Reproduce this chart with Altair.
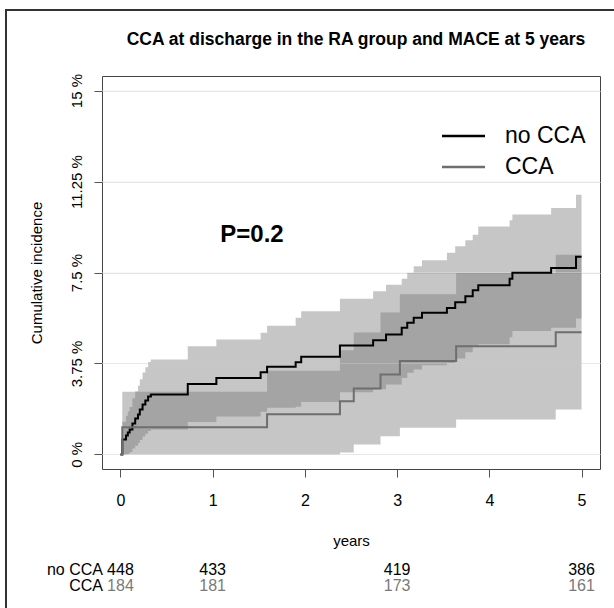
import altair as alt
import pandas as pd

# ---------------- data ----------------
groups = ["no CCA", "CCA"]
line_colors = ["#000000", "#6e6e6e"]

# no CCA (black): step times (years), cumulative incidence (%), 95% CI bounds
nocca_t = [0, 0.02, 0.06, 0.08, 0.10, 0.13, 0.16, 0.19, 0.21, 0.24, 0.27, 0.30, 0.33, 0.73, 1.04,
           1.52, 1.59, 1.90, 1.96, 2.38, 2.74, 2.88, 3.05, 3.11, 3.18, 3.27, 3.54, 3.63, 3.74, 3.82,
           3.88, 4.22, 4.25, 4.67, 4.94, 5.00]
nocca_est = [0, 0.62, 0.78, 0.90, 1.03, 1.28, 1.48, 1.65, 1.85, 2.06, 2.22, 2.39, 2.47, 2.90, 3.15,
             3.39, 3.61, 3.80, 4.03, 4.49, 4.71, 4.94, 5.22, 5.43, 5.63, 5.84, 6.04, 6.27, 6.52, 6.77,
             6.97, 7.24, 7.49, 7.69, 8.15, 8.15]
nocca_hi = [0, 1.35, 1.60, 1.77, 1.96, 2.32, 2.60, 2.83, 3.10, 3.38, 3.59, 3.81, 3.91, 4.46, 4.74,
            5.02, 5.30, 5.63, 5.90, 6.42, 6.73, 7.00, 7.24, 7.49, 7.76, 8.00, 8.31, 8.58, 8.83, 9.06,
            9.40, 9.65, 9.89, 10.16, 10.70, 10.70]
nocca_lo = [0, 0, 0, 0.03, 0.10, 0.24, 0.36, 0.47, 0.60, 0.74, 0.85, 0.97, 1.03, 1.34, 1.56,
            1.76, 1.92, 1.97, 2.16, 2.56, 2.69, 2.88, 3.15, 3.37, 3.50, 3.68, 3.77, 3.96, 4.21, 4.48,
            4.54, 4.83, 5.09, 5.22, 5.60, 5.60]

# CCA (grey)
cca_t = [0, 0.02, 1.59, 2.38, 2.53, 2.82, 3.03, 3.64, 4.72, 5.00]
cca_est = [0, 1.12, 1.66, 2.19, 2.72, 3.30, 3.85, 4.46, 5.04, 5.04]
cca_hi = [0, 2.58, 3.45, 4.30, 5.03, 5.85, 6.60, 7.48, 8.23, 8.23]
cca_lo = [0, 0, 0, 0.08, 0.41, 0.75, 1.10, 1.44, 1.85, 1.85]

x_ticks = [0, 1, 2, 3, 4, 5]
y_ticks = [0, 3.75, 7.5, 11.25, 15]

risk_times = [0, 1, 3, 5]
risk_nocca = [448, 433, 419, 386]
risk_cca = [184, 181, 173, 161]

title_text = "CCA at discharge in the RA group and MACE at 5 years"
p_text = "P=0.2"

# ---------------- tables ----------------
rows = []
for g, ts, es, los, his in [("no CCA", nocca_t, nocca_est, nocca_lo, nocca_hi),
                            ("CCA", cca_t, cca_est, cca_lo, cca_hi)]:
    for i, (t, e, lo, hi) in enumerate(zip(ts, es, los, his)):
        rows.append({"group": g, "t": t, "est": e, "lo": lo, "hi": hi, "i": i})
curves = pd.DataFrame(rows)
band_nocca = curves[curves["group"] == "no CCA"]
band_cca = curves[curves["group"] == "CCA"]

risk_rows = []
for t, a, b in zip(risk_times, risk_nocca, risk_cca):
    risk_rows.append({"t": t, "n": str(a), "group": "no CCA"})
    risk_rows.append({"t": t, "n": str(b), "group": "CCA"})
risk = pd.DataFrame(risk_rows)

W, H = 498, 393
FONT = "Liberation Sans"

xscale = alt.Scale(domain=[-0.2, 5.2], nice=False, zero=False)
yscale = alt.Scale(domain=[-0.6, 15.6], nice=False, zero=False)
cscale = alt.Scale(domain=groups, range=line_colors)

x_axis = alt.Axis(values=x_ticks, format="d", title="years", grid=False, domain=False,
                  tickSize=8, tickColor="#555555", labelFontSize=16, labelColor="#000000",
                  labelPadding=15, labelFont=FONT, titleFont=FONT, titleFontSize=15,
                  titleFontWeight="normal", titleColor="#000000", titleY=71, titleX=W / 2,
                  titleBaseline="middle")
y_axis = alt.Axis(values=y_ticks, title="Cumulative incidence", grid=True, gridColor="#e4e4e4",
                  domain=False, tickSize=8, tickColor="#555555", labelFontSize=15,
                  labelColor="#000000", labelAngle=270, labelAlign="center",
                  labelBaseline="alphabetic", labelPadding=13, labelFont=FONT,
                  labelExpr="datum.value + ' %'", titleFont=FONT, titleFontSize=15,
                  titleFontWeight="normal", titleColor="#000000", titleAngle=270,
                  titleX=-66, titleY=H / 2, titleAlign="center", titleBaseline="middle")

bands_nocca = alt.Chart(band_nocca).mark_area(
    interpolate="step-after", color="#707070", fillOpacity=0.4).encode(
    x=alt.X("t:Q", scale=xscale, axis=x_axis),
    y=alt.Y("lo:Q", scale=yscale, axis=y_axis),
    y2="hi:Q")

bands_cca = alt.Chart(band_cca).mark_area(
    interpolate="step-after", color="#707070", fillOpacity=0.4).encode(
    x=alt.X("t:Q", scale=xscale),
    y=alt.Y("lo:Q", scale=yscale),
    y2="hi:Q")

# faint grid lines showing through the bands
grid_over = alt.Chart(pd.DataFrame({"g": y_ticks})).mark_rule(
    color="#eeeeee", opacity=0.35, strokeWidth=1).encode(
    y=alt.Y("g:Q", scale=yscale))

lines = alt.Chart(curves).mark_line(interpolate="step-after", strokeWidth=2).encode(
    x=alt.X("t:Q", scale=xscale),
    y=alt.Y("est:Q", scale=yscale),
    color=alt.Color("group:N", scale=cscale, legend=None),
    order="i:Q",
)

# legend (drawn manually, as in the original)
leg = pd.DataFrame({"group": groups, "ly": [60, 91]})
leg_lines = alt.Chart(leg).mark_rule(strokeWidth=2.5).encode(
    x=alt.value(340), x2=alt.value(383),
    y=alt.Y("ly:Q", scale=None),
    color=alt.Color("group:N", scale=cscale, legend=None),
)
leg_text = alt.Chart(leg).mark_text(align="left", baseline="middle", fontSize=23, font=FONT,
                                    color="#000000").encode(
    x=alt.value(403), y=alt.Y("ly:Q", scale=None), text="group:N")

title = alt.Chart(pd.DataFrame({"s": [title_text]})).mark_text(
    fontSize=17.5, fontWeight="bold", font=FONT, align="center", baseline="middle",
    color="#000000").encode(x=alt.value(W / 2 + 5), y=alt.value(-36), text="s:N")

ptxt = alt.Chart(pd.DataFrame({"s": [p_text]})).mark_text(
    fontSize=24, fontWeight="bold", font=FONT, align="center", baseline="middle",
    color="#000000").encode(x=alt.value(150), y=alt.value(159), text="s:N")

risk_names = alt.Chart(pd.DataFrame({"group": groups, "ry": [494, 510]})).mark_text(
    fontSize=16, font=FONT, align="right", baseline="middle", color="#000000").encode(
    x=alt.value(1), y=alt.Y("ry:Q", scale=None), text="group:N")

risk_nums = alt.Chart(risk).transform_calculate(
    ry="datum.group == 'no CCA' ? 494 : 510").mark_text(
    fontSize=16, font=FONT, align="center", baseline="middle").encode(
    x=alt.X("t:Q", scale=xscale),
    y=alt.Y("ry:Q", scale=None),
    text="n:N",
    color=alt.Color("group:N", scale=alt.Scale(domain=groups, range=["#000000", "#7a7a7a"]),
                    legend=None),
)

frame = alt.Chart(pd.DataFrame({"a": [0]})).mark_rect(
    filled=False, stroke="#333333", strokeWidth=2).encode(
    x=alt.value(-96), x2=alt.value(640), y=alt.value(-66), y2=alt.value(640))

chart = alt.layer(bands_nocca, bands_cca, grid_over, lines, leg_lines, leg_text, title, ptxt,
                  risk_names, risk_nums, frame).properties(
    width=W, height=H,
    padding={"left": 102, "top": 76, "right": 14, "bottom": 139},
    autosize=alt.AutoSizeParams(type="none"),
    background="white",
).resolve_scale(color="independent").configure_view(stroke="#444444", strokeWidth=1)

chart.save("out.html", embed_options={"renderer": "svg", "actions": False})
